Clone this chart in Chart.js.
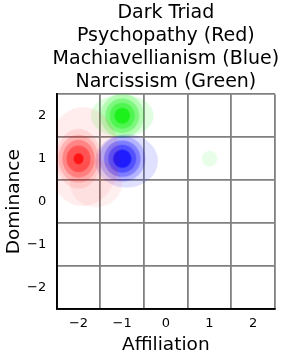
<!DOCTYPE html>
<html><head><meta charset="utf-8">
<script src="https://cdn.jsdelivr.net/npm/chart.js@4/dist/chart.umd.min.js"></script>
<style>html,body{margin:0;padding:0;background:#fff}#wrap{width:288px;height:360px}</style>
</head><body><div id="wrap"><canvas id="c" width="288" height="360"></canvas></div>
<script>
// ---- data ----
const titleLines = ['Dark Triad', 'Psychopathy (Red)', 'Machiavellianism (Blue)', 'Narcissism (Green)'];
const xTicks = [-2, -1, 0, 1, 2];
const yTicks = [-2, -1, 0, 1, 2];
const xLabel = 'Affiliation';
const yLabel = 'Dominance';

// density contour layers (outermost first): centre (affiliation, dominance), half-extent in axis units
const psyAff = [-1.6, -1.9, -2, -2, -2, -2, -2];
const psyDom = [0.42, 1.05, 1, 1, 1, 1, 1];
const psySpreadAff = [0.6, 0.85, 0.52, 0.46, 0.37, 0.275, 0.115];
const psySpreadDom = [0.55, 1.15, 0.70, 0.56, 0.44, 0.31, 0.13];

const machAff = [-0.9, -1, -1, -1, -1];
const machDom = [0.95, 1, 1, 1, 1];
const machSpreadAff = [0.72, 0.53, 0.42, 0.32, 0.21];
const machSpreadDom = [0.62, 0.535, 0.425, 0.325, 0.215];

const narcAff = [-1, -1, -1, -1, -1, 1];
const narcDom = [2, 2, 2, 2, 2, 1];
const narcSpreadAff = [0.72, 0.5, 0.39, 0.29, 0.18, 0.18];
const narcSpreadDom = [0.5, 0.51, 0.4, 0.3, 0.185, 0.185];

// ---- styles ----
const psyAlpha = [0.06, 0.07, 0.10, 0.16, 0.26, 0.38, 0.75];
const machAlpha = [0.12, 0.2, 0.3, 0.36, 0.65];
const narcAlpha = [0.12, 0.2, 0.3, 0.36, 0.65, 0.09];

function pts(ax, dm, sa, sd) {
  return ax.map((x, i) => ({ x: x, y: dm[i], sa: sa[i], sd: sd[i] }));
}

function halfSizes(ctx) {
  const raw = ctx.raw, ch = ctx.chart;
  const sx = ch.scales.x, sy = ch.scales.y;
  const rx = Math.abs(sx.getPixelForValue(raw.x + raw.sa) - sx.getPixelForValue(raw.x));
  const ry = Math.abs(sy.getPixelForValue(raw.y + raw.sd) - sy.getPixelForValue(raw.y));
  return [rx, ry];
}

function layerStyle(rgb, alphas) {
  return function (ctx) {
    if (!ctx.raw) return 'circle';
    const [rx, ry] = halfSizes(ctx);
    const c = document.createElement('canvas');
    c.width = Math.ceil(2 * rx) + 2;
    c.height = Math.ceil(2 * ry) + 2;
    const g = c.getContext('2d');
    g.fillStyle = 'rgba(' + rgb + ',' + alphas[ctx.dataIndex] + ')';
    g.beginPath();
    g.ellipse(c.width / 2, c.height / 2, rx, ry, 0, 0, Math.PI * 2);
    g.fill();
    return c;
  };
}
function layerRadius(ctx) {
  if (!ctx.raw) return 3;
  const [rx, ry] = halfSizes(ctx);
  return Math.max(rx, ry, 0.5);
}

function ds(label, data, rgb, alphas) {
  return {
    label: label, data: data, showLine: false, clip: 0,
    pointStyle: layerStyle(rgb, alphas), pointRadius: layerRadius,
    pointBorderWidth: 0, pointBackgroundColor: 'rgba(0,0,0,0)', pointBorderColor: 'rgba(0,0,0,0)'
  };
}

Chart.defaults.font.family = 'DejaVu Sans';
Chart.defaults.color = '#000';

const minus = v => (v < 0 ? '\u2212' + Math.abs(v) : String(v));
const gridColor = n => ctx => (ctx.index === 0 || ctx.index === n) ? '#000' : '#808080';

// centre the title block over the plot area without squeezing long lines
const titleOverPlot = {
  id: 'titleOverPlot',
  beforeDraw(chart) {
    const t = chart.titleBlock, a = chart.chartArea;
    if (!t || !a) return;
    const c = (a.left + a.right) / 2;
    t.left = c - 140; t.right = c + 140; t.width = 280;
  }
};

new Chart(document.getElementById('c'), {
  type: 'scatter',
  data: {
    datasets: [
      ds('Psychopathy', pts(psyAff, psyDom, psySpreadAff, psySpreadDom), '255,0,0', psyAlpha),
      ds('Machiavellianism', pts(machAff, machDom, machSpreadAff, machSpreadDom), '0,0,255', machAlpha),
      ds('Narcissism', pts(narcAff, narcDom, narcSpreadAff, narcSpreadDom), '0,240,0', narcAlpha)
    ]
  },
  plugins: [titleOverPlot],
  options: {
    responsive: false, animation: false, devicePixelRatio: 1, events: [],
    layout: { padding: { left: 1, right: 13, top: 0, bottom: 0 } },
    plugins: {
      legend: { display: false }, tooltip: { enabled: false },
      title: {
        display: true, text: titleLines, fullSize: false, color: '#000',
        font: { size: 19, weight: 'normal', lineHeight: 1.2 },
        padding: { top: 2, bottom: 1 }
      }
    },
    scales: {
      x: {
        type: 'linear', position: 'bottom', min: -2.5, max: 2.5, z: 1,
        afterBuildTicks: s => { s.ticks = xTicks.map(v => ({ value: v })); },
        afterFit: s => { s.height = 50.7; },
        ticks: { font: { size: 13 }, color: '#000', padding: 7, maxRotation: 0, autoSkip: false, callback: minus },
        grid: { offset: true, drawTicks: false, lineWidth: 1.8, color: gridColor(xTicks.length) },
        border: { display: true, color: '#000', width: 1.8 },
        title: { display: true, text: xLabel, color: '#000', font: { size: 18.5, lineHeight: 1.2 }, padding: { top: 3, bottom: 4 } }
      },
      y: {
        type: 'linear', position: 'left', min: -2.5, max: 2.5, z: 1,
        afterBuildTicks: s => { s.ticks = yTicks.map(v => ({ value: v })); },
        afterFit: s => { s.width = 55.7; },
        ticks: { font: { size: 13 }, color: '#000', padding: 10.5, autoSkip: false, callback: minus },
        grid: { offset: true, drawTicks: false, lineWidth: 1.8, color: gridColor(yTicks.length) },
        border: { display: true, color: '#000', width: 1.8 },
        title: { display: true, text: yLabel, color: '#000', font: { size: 18.5, lineHeight: 1.2 }, padding: 2 }
      }
    }
  }
});
</script></body></html>
